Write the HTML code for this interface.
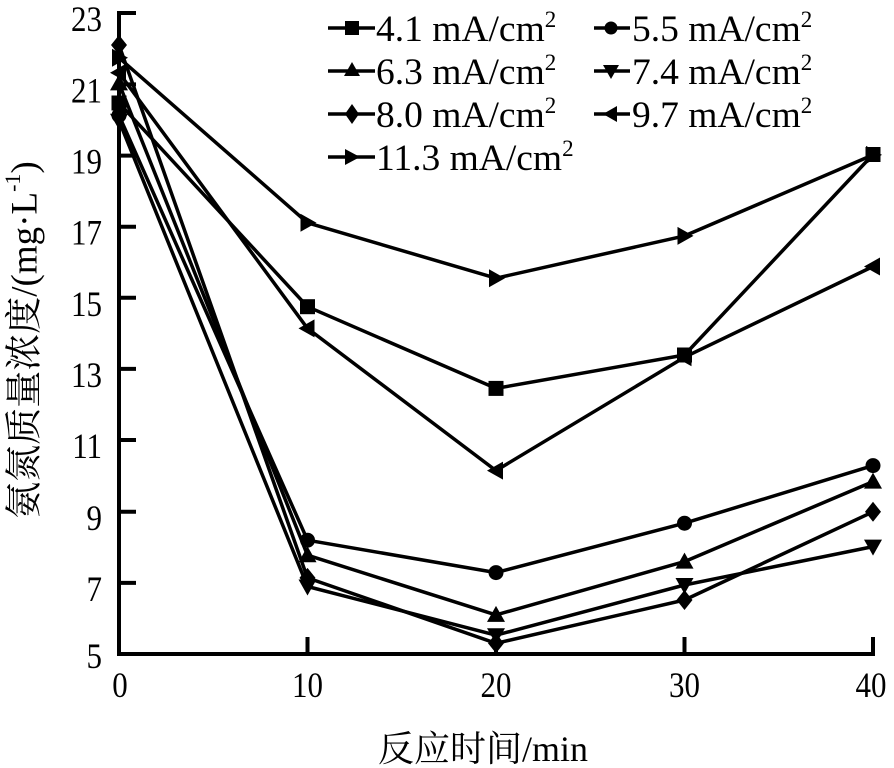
<!DOCTYPE html>
<html><head><meta charset="utf-8"><style>
html,body{margin:0;padding:0;background:#fff;}
svg{display:block;}
text{font-family:"Liberation Serif","Noto Serif CJK SC",serif;fill:#000;}
</style></head><body>
<svg width="894" height="768" viewBox="0 0 894 768" xmlns="http://www.w3.org/2000/svg">
<defs>
<rect id="sq" x="-7.5" y="-7.5" width="15" height="15"/>
<circle id="ci" r="7.5"/>
<polygon id="up" points="0,-9 9,7 -9,7"/>
<polygon id="dn" points="0,9 9,-7 -9,-7"/>
<polygon id="di" points="0,-10 8,0 0,10 -8,0"/>
<polygon id="lt" points="-9,0 7,-9 7,9"/>
<polygon id="rt" points="9,0 -7,-9 -7,9"/>
</defs>

<!-- axes -->
<g stroke="#000" stroke-width="4" fill="none">
<line x1="119" y1="11" x2="119" y2="656"/>
<line x1="117" y1="654" x2="875" y2="654"/>
<line x1="119" y1="13" x2="136" y2="13"/>
<line x1="119" y1="84.4" x2="136" y2="84.4"/>
<line x1="119" y1="155.6" x2="136" y2="155.6"/>
<line x1="119" y1="226.7" x2="136" y2="226.7"/>
<line x1="119" y1="297.8" x2="136" y2="297.8"/>
<line x1="119" y1="368.9" x2="136" y2="368.9"/>
<line x1="119" y1="440" x2="136" y2="440"/>
<line x1="119" y1="511.8" x2="136" y2="511.8"/>
<line x1="119" y1="582.9" x2="136" y2="582.9"/>
<line x1="307.5" y1="654" x2="307.5" y2="637"/>
<line x1="496" y1="654" x2="496" y2="637"/>
<line x1="684.5" y1="654" x2="684.5" y2="637"/>
<line x1="873" y1="654" x2="873" y2="637"/>
</g>

<!-- y tick labels -->
<g font-size="36" text-anchor="end">
<text transform="translate(102,31) scale(0.86,1)">23</text>
<text transform="translate(102,102.4) scale(0.86,1)">21</text>
<text transform="translate(102,173.6) scale(0.86,1)">19</text>
<text transform="translate(102,244.7) scale(0.86,1)">17</text>
<text transform="translate(102,315.8) scale(0.86,1)">15</text>
<text transform="translate(102,386.9) scale(0.86,1)">13</text>
<text transform="translate(102,458) scale(0.86,1)">11</text>
<text transform="translate(102,529.8) scale(0.86,1)">9</text>
<text transform="translate(102,600.9) scale(0.86,1)">7</text>
<text transform="translate(102,668) scale(0.86,1)">5</text>
</g>
<!-- x tick labels -->
<g font-size="36" text-anchor="middle">
<text transform="translate(120,697) scale(0.86,1)">0</text>
<text transform="translate(307.5,697) scale(0.86,1)">10</text>
<text transform="translate(496,697) scale(0.86,1)">20</text>
<text transform="translate(684.5,697) scale(0.86,1)">30</text>
<text transform="translate(871,697) scale(0.86,1)">40</text>
</g>

<!-- axis titles -->
<text x="378" y="761" font-size="36">反应时间/min</text>
<text transform="translate(25,340) rotate(-90)" font-size="37" text-anchor="middle" dominant-baseline="central">氨氮质量浓度/(mg·L<tspan font-size="22" baseline-shift="super">-1</tspan>)</text>

<!-- series lines -->
<g stroke="#000" stroke-width="3.5" fill="none" stroke-linejoin="round">
<polyline points="119,103 307.5,306.7 496,388.4 684.5,355 873,154.5"/>
<polyline points="119,115.4 307.5,540.2 496,572.6 684.5,523.2 873,465.6"/>
<polyline points="119,83.4 307.5,555.2 496,614.9 684.5,561.6 873,481.6"/>
<polyline points="119,120.7 307.5,586.5 496,635.2 684.5,585 873,546.6"/>
<polyline points="119,45 307.5,577.9 496,643.3 684.5,600 873,511.8"/>
<polyline points="119,72.8 307.5,328.4 496,470.6 684.5,357.2 873,266.5"/>
<polyline points="119,57.8 307.5,222.8 496,278.2 684.5,235.9 873,154.9"/>
</g>

<!-- markers -->
<g fill="#000">
<use href="#sq" x="119" y="103"/><use href="#sq" x="307.5" y="306.7"/><use href="#sq" x="496" y="388.4"/><use href="#sq" x="684.5" y="355"/><use href="#sq" x="873" y="154.5"/>
<use href="#ci" x="119" y="115.4"/><use href="#ci" x="307.5" y="540.2"/><use href="#ci" x="496" y="572.6"/><use href="#ci" x="684.5" y="523.2"/><use href="#ci" x="873" y="465.6"/>
<use href="#up" x="119" y="83.4"/><use href="#up" x="307.5" y="555.2"/><use href="#up" x="496" y="614.9"/><use href="#up" x="684.5" y="561.6"/><use href="#up" x="873" y="481.6"/>
<use href="#dn" x="119" y="120.7"/><use href="#dn" x="307.5" y="586.5"/><use href="#dn" x="496" y="635.2"/><use href="#dn" x="684.5" y="585"/><use href="#dn" x="873" y="546.6"/>
<use href="#di" x="119" y="45"/><use href="#di" x="307.5" y="577.9"/><use href="#di" x="496" y="643.3"/><use href="#di" x="684.5" y="600"/><use href="#di" x="873" y="511.8"/>
<use href="#lt" x="119" y="72.8"/><use href="#lt" x="307.5" y="328.4"/><use href="#lt" x="496" y="470.6"/><use href="#lt" x="684.5" y="357.2"/><use href="#lt" x="873" y="266.5"/>
<use href="#rt" x="119" y="57.8"/><use href="#rt" x="307.5" y="222.8"/><use href="#rt" x="496" y="278.2"/><use href="#rt" x="684.5" y="235.9"/><use href="#rt" x="873" y="154.9"/>
</g>

<!-- legend -->
<g stroke="#000" stroke-width="3.5">
<line x1="328" y1="28" x2="375" y2="28"/>
<line x1="594" y1="28" x2="630" y2="28"/>
<line x1="328" y1="71" x2="375" y2="71"/>
<line x1="594" y1="71" x2="630" y2="71"/>
<line x1="328" y1="114" x2="375" y2="114"/>
<line x1="594" y1="114" x2="630" y2="114"/>
<line x1="328" y1="157" x2="375" y2="157"/>
</g>
<g fill="#000">
<rect x="345" y="21" width="14" height="14"/>
<circle cx="611" cy="28" r="6.5"/>
<polygon points="352,62 360,76 344,76"/>
<polygon points="611,79 619,65 603,65"/>
<polygon points="352,104 359,114 352,124 345,114"/>
<polygon points="603,114 617,106 617,122"/>
<polygon points="360,157 345,149 345,165"/>
</g>
<g font-size="37.5">
<text x="376" y="41">4.1 mA/cm<tspan font-size="23" dy="-14">2</tspan></text>
<text x="632" y="41">5.5 mA/cm<tspan font-size="23" dy="-14">2</tspan></text>
<text x="376" y="84">6.3 mA/cm<tspan font-size="23" dy="-14">2</tspan></text>
<text x="632" y="84">7.4 mA/cm<tspan font-size="23" dy="-14">2</tspan></text>
<text x="376" y="127">8.0 mA/cm<tspan font-size="23" dy="-14">2</tspan></text>
<text x="632" y="127">9.7 mA/cm<tspan font-size="23" dy="-14">2</tspan></text>
<text x="376" y="170">11.3 mA/cm<tspan font-size="23" dy="-14">2</tspan></text>
</g>
</svg>
</body></html>
